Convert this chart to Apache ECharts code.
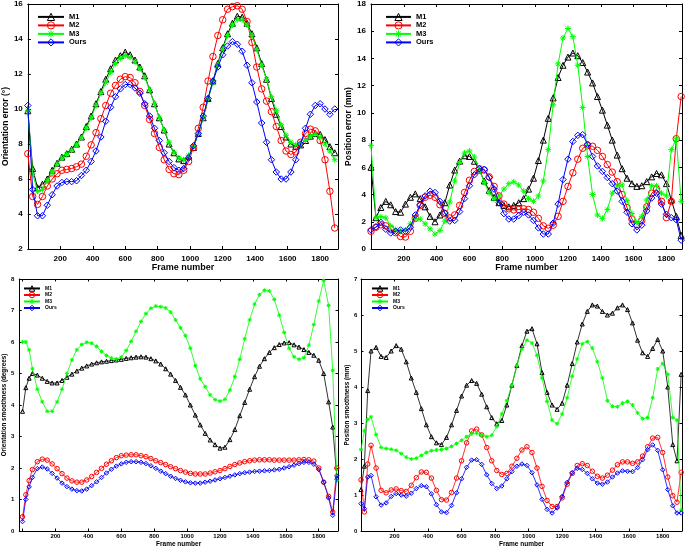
<!DOCTYPE html>
<html><head><meta charset="utf-8">
<script src="https://cdn.jsdelivr.net/npm/echarts@6/dist/echarts.min.js"></script>
<style>html,body{margin:0;padding:0;background:#fff;}#c{width:685px;height:549px;}</style>
</head><body><div id="c"></div>
<script>
// ---------- DATA ----------
const seriesNames = ['M1', 'M2', 'M3', 'Ours'];

// Top panels: frame numbers
const framesTop = [
  0,30,60,90,120,150,180,210,240,270,
  300,330,360,390,420,450,480,510,540,570,
  600,630,660,690,720,750,780,810,840,870,
  900,930,960,990,1020,1050,1080,1110,1140,1170,
  1200,1230,1260,1290,1320,1350,1380,1410,1440,1470,
  1500,1530,1560,1590,1620,1650,1680,1710,1740,1770,
  1800,1830,1860,1890];

// Orientation error (deg)
const oeM1 = [
  9.9,6.6,5.5,5.7,6.0,6.5,6.9,7.25,7.45,7.7,
  8.0,8.4,9.0,9.6,10.3,11.0,11.7,12.3,12.8,13.05,
  13.25,13.1,12.8,12.4,11.9,11.1,10.3,9.5,8.8,8.0,
  7.5,7.15,7.05,7.3,7.8,8.6,9.5,10.6,11.6,12.6,
  13.5,14.3,14.9,15.3,15.25,14.9,14.3,13.5,12.6,11.7,
  10.6,9.7,9.0,8.4,8.0,7.85,7.95,8.2,8.45,8.6,
  8.55,8.25,7.85,7.5];
const oeM2 = [
  7.45,5.0,4.55,5.0,5.6,6.0,6.3,6.5,6.55,6.6,
  6.7,6.85,7.3,7.95,8.65,9.45,10.2,10.9,11.35,11.7,
  11.85,11.8,11.5,11.0,10.2,9.4,8.6,7.8,7.1,6.55,
  6.3,6.25,6.5,7.0,7.8,8.9,10.1,11.6,13.0,14.2,
  15.1,15.7,15.85,15.9,15.7,15.0,13.8,12.4,11.15,10.45,
  9.85,9.0,8.2,7.6,7.4,7.55,8.1,8.6,8.85,8.75,
  8.2,7.1,5.3,3.2];
const oeM3 = [
  9.9,6.3,5.3,5.4,5.9,6.4,6.85,7.2,7.4,7.65,
  7.95,8.35,8.9,9.5,10.2,10.9,11.5,12.1,12.6,12.9,
  13.05,12.95,12.7,12.3,11.8,11.1,10.3,9.5,8.8,8.1,
  7.5,7.2,7.1,7.35,7.85,8.6,9.5,10.55,11.5,12.5,
  13.4,14.2,14.8,15.1,15.1,14.8,14.2,13.4,12.5,11.7,
  10.7,9.9,9.1,8.5,8.1,7.95,8.0,8.2,8.45,8.55,
  8.4,8.0,7.6,7.1];
const oeOurs = [
  10.2,5.4,3.9,3.9,4.5,5.1,5.6,5.8,5.85,5.85,
  5.9,6.2,6.5,7.0,7.6,8.4,9.3,10.1,10.7,11.15,
  11.4,11.4,11.2,10.9,10.3,9.6,8.9,8.2,7.5,7.0,
  6.65,6.5,6.6,7.2,7.9,8.6,9.6,10.6,11.6,12.4,
  13.1,13.6,13.85,13.7,13.3,12.5,11.5,10.4,9.2,8.1,
  7.1,6.4,6.0,6.0,6.4,7.1,8.0,8.9,9.7,10.2,
  10.3,10.0,9.7,10.0];

// Position error (mm)
const peM1 = [
  6.0,2.3,3.05,3.5,3.25,2.75,2.7,3.3,3.8,4.05,
  3.7,3.1,2.4,2.0,2.5,3.4,4.7,5.8,6.45,6.85,
  6.8,6.45,5.8,5.0,4.3,3.8,3.4,3.2,3.1,3.2,
  3.4,3.7,4.4,5.2,6.5,8.0,9.6,11.1,12.6,13.5,
  14.1,14.4,14.2,13.7,13.0,12.2,11.2,10.2,9.1,8.0,
  6.9,5.9,5.2,4.8,4.6,4.65,4.95,5.3,5.55,5.45,
  4.8,3.6,2.4,1.0];
const peM2 = [
  1.3,1.6,1.78,1.7,1.5,1.2,0.92,0.88,1.3,2.25,
  3.2,3.8,3.95,3.8,3.25,2.6,2.28,2.5,3.2,4.15,
  5.05,5.7,5.9,5.8,5.3,4.6,3.9,3.3,2.95,2.87,
  2.9,2.95,2.9,2.7,2.25,1.7,1.52,1.75,2.4,3.5,
  4.6,5.6,6.6,7.4,7.6,7.55,7.25,6.8,6.2,5.65,
  4.95,4.0,3.05,2.2,1.8,2.1,3.1,4.1,4.4,3.5,
  2.3,3.5,8.1,11.2];
const peM3 = [
  7.6,2.3,2.38,2.28,1.7,1.43,1.3,1.4,1.85,2.22,
  2.2,1.85,1.48,1.1,1.35,2.05,3.45,5.0,6.35,7.05,
  7.2,6.75,5.85,4.9,4.1,3.7,3.9,4.4,4.8,4.93,
  4.7,4.25,3.7,3.5,3.9,5.0,7.3,10.6,13.6,15.5,
  16.2,15.6,13.5,10.4,6.8,4.0,2.5,2.25,2.9,4.1,
  4.65,4.7,3.55,2.6,1.95,2.4,3.6,4.65,4.65,4.1,
  3.9,7.3,8.1,3.5];
const peOurs = [
  1.4,1.62,1.95,1.45,1.18,1.3,1.4,1.3,1.6,2.5,
  3.25,3.9,4.25,4.15,3.5,2.65,2.05,2.1,2.75,3.7,
  4.65,5.45,5.9,5.85,5.25,4.4,3.4,2.6,2.2,2.2,
  2.45,2.7,2.5,2.1,1.55,1.1,1.1,1.9,3.3,5.1,
  6.6,7.9,8.35,8.4,7.7,6.8,6.1,5.7,5.25,4.8,
  4.25,3.5,2.7,1.85,1.4,1.75,2.8,3.75,4.1,3.3,
  2.55,2.3,2.15,0.65];

// Bottom panels: frame numbers
const framesBottom = [
  0,20,40,60,90,120,150,180,210,240,
  270,300,330,360,390,420,450,480,510,540,
  570,600,630,660,690,720,750,780,810,840,
  870,900,930,960,990,1020,1050,1080,1110,1140,
  1170,1200,1230,1260,1290,1320,1350,1380,1410,1440,
  1470,1500,1530,1560,1590,1620,1650,1680,1710,1740,
  1770,1800,1830,1860,1885,1910];

// Orientation smoothness (degrees)
const osM1 = [
  3.8,4.55,4.85,5.0,4.95,4.85,4.75,4.7,4.7,4.78,
  4.88,4.98,5.08,5.17,5.24,5.3,5.34,5.37,5.39,5.41,
  5.43,5.45,5.48,5.5,5.52,5.53,5.52,5.47,5.4,5.3,
  5.15,4.98,4.78,4.56,4.32,4.0,3.68,3.37,3.1,2.89,
  2.74,2.63,2.66,2.9,3.22,3.66,4.08,4.5,4.9,5.23,
  5.47,5.67,5.82,5.92,5.97,5.98,5.91,5.84,5.76,5.67,
  5.58,5.42,5.0,4.1,3.3,1.7];
const osM2 = [
  0.45,1.15,1.6,1.95,2.2,2.28,2.25,2.13,1.98,1.82,
  1.68,1.59,1.55,1.55,1.62,1.73,1.86,1.99,2.12,2.23,
  2.33,2.39,2.41,2.42,2.42,2.39,2.36,2.3,2.23,2.17,
  2.11,2.04,1.98,1.92,1.87,1.83,1.81,1.81,1.81,1.84,
  1.88,1.92,1.98,2.05,2.11,2.16,2.2,2.23,2.25,2.26,
  2.26,2.26,2.25,2.25,2.25,2.25,2.25,2.26,2.27,2.26,
  2.22,2.0,1.55,1.1,0.6,2.0];
const osM3 = [
  6.0,6.0,5.75,5.15,4.5,4.1,3.8,3.8,4.1,4.5,
  5.0,5.43,5.75,5.92,5.99,5.96,5.86,5.7,5.57,5.49,
  5.46,5.52,5.73,6.02,6.34,6.65,6.9,7.07,7.14,7.12,
  7.08,6.95,6.7,6.45,6.2,5.8,5.25,4.83,4.58,4.32,
  4.17,4.12,4.18,4.47,4.9,5.45,6.1,6.7,7.2,7.5,
  7.64,7.62,7.35,6.85,6.3,5.8,5.53,5.45,5.5,5.9,
  6.55,7.3,7.95,7.16,5.1,1.6];
const osOurs = [
  0.3,1.0,1.4,1.7,1.98,2.03,1.97,1.83,1.68,1.52,
  1.41,1.33,1.28,1.27,1.33,1.44,1.56,1.7,1.84,1.96,
  2.06,2.13,2.18,2.2,2.2,2.18,2.14,2.07,1.99,1.9,
  1.82,1.74,1.67,1.61,1.56,1.53,1.52,1.52,1.55,1.58,
  1.62,1.66,1.7,1.74,1.78,1.82,1.85,1.87,1.89,1.9,
  1.91,1.92,1.94,1.96,2.0,2.04,2.09,2.14,2.18,2.18,
  2.12,1.95,1.55,1.05,0.5,1.75];

// Position smoothness (mm)
const psM1 = [
  1.15,1.8,3.9,5.0,5.1,4.85,4.82,5.0,5.15,5.05,
  4.7,4.25,3.85,3.4,2.95,2.62,2.45,2.4,2.6,2.95,
  3.35,3.75,4.05,4.18,4.1,3.8,3.45,3.15,2.98,3.07,
  3.5,4.05,4.6,5.15,5.55,5.62,5.2,4.4,3.85,3.5,
  3.38,3.55,4.05,4.65,5.25,5.75,6.1,6.28,6.25,6.1,
  6.0,6.05,6.2,6.28,6.15,5.78,5.3,4.95,4.85,5.07,
  5.32,5.0,4.0,2.4,1.95,4.35];
const psM2 = [
  1.42,0.53,1.86,2.38,1.75,1.13,1.06,1.14,1.17,1.12,
  1.1,1.27,1.48,1.64,1.63,1.47,1.13,0.87,0.86,1.07,
  1.47,1.95,2.45,2.78,2.83,2.67,2.32,1.95,1.68,1.57,
  1.6,1.8,2.02,2.25,2.34,2.18,1.75,1.24,0.85,0.68,
  0.68,0.92,1.3,1.6,1.82,1.87,1.82,1.66,1.52,1.47,
  1.55,1.69,1.84,1.92,1.92,1.88,1.92,2.08,2.34,2.58,
  2.6,2.18,1.5,0.98,0.8,1.63];
const psM3 = [
  2.26,2.78,3.1,3.17,2.68,2.32,2.29,2.27,2.24,2.15,
  2.05,2.0,2.02,2.1,2.18,2.23,2.25,2.26,2.29,2.35,
  2.43,2.52,2.62,2.7,2.72,2.66,2.62,2.66,2.9,3.25,
  3.62,4.05,4.6,5.05,5.3,5.22,4.88,4.25,3.6,3.08,
  2.98,3.25,3.7,4.3,4.78,5.2,5.26,5.08,4.7,4.25,
  3.62,3.46,3.45,3.55,3.6,3.5,3.28,3.12,3.15,3.7,
  4.5,4.65,4.35,3.15,3.08,0.58];
const psOurs = [
  0.76,0.62,1.5,1.54,0.95,0.72,0.78,0.96,1.04,1.0,
  0.97,1.05,1.18,1.26,1.23,1.03,0.73,0.53,0.51,0.71,
  1.06,1.45,1.77,1.97,1.98,1.85,1.56,1.32,1.18,1.25,
  1.45,1.65,1.8,1.86,1.82,1.62,1.28,0.88,0.6,0.5,
  0.64,0.96,1.35,1.62,1.74,1.71,1.6,1.45,1.33,1.3,
  1.36,1.5,1.61,1.67,1.66,1.65,1.76,1.98,2.26,2.39,
  2.24,1.7,1.15,0.7,0.5,0.5];

const xTitle = 'Frame number';
const yTitles = ['Orientation error (°)', 'Position error (mm)',
                 'Orientation smoothness (degrees)', 'Position smoothness (mm)'];

// ---------- STYLE / LAYOUT ----------
const FONT = '"Liberation Sans", Arial, Helvetica, sans-serif';
const COLORS = ['#000000', '#ff0000', '#00ff00', '#0000ff'];
const STAR = 'path://M5,0L5,10M0,5L10,5M1.5,1.5L8.5,8.5M1.5,8.5L8.5,1.5';
const SYMBOLS = ['triangle', 'circle', STAR, 'diamond'];

const panels = [
  { frames: framesTop, values: [oeM1, oeM2, oeM3, oeOurs],
    grid: {left: 25, top: 3, width: 313, height: 246},
    xMin: 0, xMax: 1910, yMin: 2, yMax: 16, yInterval: 2,
    tickFont: 8, xNameFont: 9, yNameFont: 8.5, xLabelMargin: 5.5, yLabelMargin: 5,
    xNameGap: 14, yNameGap: 16, tickLen: 3, sym: [6, 6.5, 6, 6.5], lw: 1,
    legend: {left: 37, top: 12.8, itemWidth: 26, itemHeight: 9, itemGap: 0.3, fontSize: 7.5} },
  { frames: framesTop, values: [peM1, peM2, peM3, peOurs],
    grid: {left: 371, top: 3, width: 311, height: 246},
    xMin: 0, xMax: 1895, yMin: 0, yMax: 18, yInterval: 2,
    tickFont: 8, xNameFont: 9, yNameFont: 8.5, xLabelMargin: 5.5, yLabelMargin: 5,
    xNameGap: 14, yNameGap: 16.5, tickLen: 3, sym: [6, 6.5, 6, 6.5], lw: 1,
    legend: {left: 385, top: 12.8, itemWidth: 25, itemHeight: 9, itemGap: 0.3, fontSize: 7.5} },
  { frames: framesBottom, values: [osM1, osM2, osM3, osOurs],
    grid: {left: 12, top: 279, width: 326, height: 254},
    xMin: -20, xMax: 1917, yMin: 0, yMax: 8, yInterval: 1,
    tickFont: 6, xNameFont: 6.5, yNameFont: 6.3, xLabelMargin: 2, yLabelMargin: 5,
    xNameGap: 10, yNameGap: 5, tickLen: 2.5, sym: [4, 4.5, 4, 4.5], lw: 0.8,
    legend: {left: 23, top: 285.2, itemWidth: 16, itemHeight: 6.9, itemGap: 0, fontSize: 5} },
  { frames: framesBottom, values: [psM1, psM2, psM3, psOurs],
    grid: {left: 361, top: 279, width: 322, height: 254},
    xMin: 0, xMax: 1915, yMin: 0, yMax: 7, yInterval: 1,
    tickFont: 6, xNameFont: 6.5, yNameFont: 6.3, xLabelMargin: 2, yLabelMargin: 3.7,
    xNameGap: 10, yNameGap: 9, tickLen: 2.5, sym: [4, 4.5, 4, 4.5], lw: 0.8,
    legend: {left: 371, top: 285.2, itemWidth: 16, itemHeight: 6.9, itemGap: 0, fontSize: 5} }
];

const grids = [], xAxes = [], yAxes = [], series = [], legends = [];
const axisLine = {show: true, onZero: false, lineStyle: {color: '#000', width: 1}};

panels.forEach((p, g) => {
  grids.push(Object.assign({show: false, containLabel: false}, p.grid));
  const tick = {show: true, inside: true, length: p.tickLen, lineStyle: {color: '#000', width: 1}};
  const xBase = {type: 'value', gridIndex: g, min: p.xMin, max: p.xMax,
                 splitLine: {show: false}, axisLine: axisLine, axisTick: tick};
  if (p.xMin === 0) xBase.interval = 200; else xBase.splitNumber = 10;
  xAxes.push(Object.assign({}, xBase, {
    position: 'bottom',
    axisLabel: {show: true, margin: p.xLabelMargin, fontSize: p.tickFont, fontWeight: 'bold',
                fontFamily: FONT, color: '#000',
                formatter: v => (v > 0 && v % 200 === 0) ? String(v) : ''},
    name: xTitle, nameLocation: 'middle', nameGap: p.xNameGap,
    nameTextStyle: {fontSize: p.xNameFont, fontWeight: 'bold', fontFamily: FONT, color: '#000'}
  }));
  xAxes.push(Object.assign({}, xBase, {position: 'top', axisLabel: {show: false}}));
  const yBase = {type: 'value', gridIndex: g, min: p.yMin, max: p.yMax, interval: p.yInterval,
                 splitLine: {show: false}, axisLine: axisLine, axisTick: tick};
  yAxes.push(Object.assign({}, yBase, {
    position: 'left',
    axisLabel: {show: true, margin: p.yLabelMargin, fontSize: p.tickFont, fontWeight: 'bold',
                fontFamily: FONT, color: '#000'},
    name: yTitles[g], nameLocation: 'middle', nameGap: p.yNameGap,
    nameTextStyle: {fontSize: p.yNameFont, fontWeight: 'bold', fontFamily: FONT, color: '#000'}
  }));
  yAxes.push(Object.assign({}, yBase, {position: 'right', axisLabel: {show: false}}));

  seriesNames.forEach((nm, k) => {
    series.push({
      type: 'line', name: nm + '#' + g,
      xAxisIndex: 2 * g, yAxisIndex: 2 * g,
      data: p.frames.map((f, i) => [f, p.values[k][i]]),
      symbol: SYMBOLS[k], symbolSize: p.sym[k], showSymbol: true,
      lineStyle: {color: COLORS[k], width: p.lw},
      itemStyle: {color: 'rgba(0,0,0,0)', borderColor: COLORS[k], borderWidth: 1},
      emphasis: {disabled: true}, clip: false, animation: false, z: 2 + k
    });
  });

  legends.push({
    data: seriesNames.map(nm => nm + '#' + g),
    orient: 'vertical', left: p.legend.left, top: p.legend.top, padding: 0,
    itemWidth: p.legend.itemWidth, itemHeight: p.legend.itemHeight, itemGap: p.legend.itemGap,
    selectedMode: false, formatter: n => n.split('#')[0],
    itemStyle: {borderWidth: 1},
    textStyle: {fontSize: p.legend.fontSize, fontWeight: 'bold', fontFamily: FONT, color: '#000'}
  });
});

const chart = echarts.init(document.getElementById('c'), null, {renderer: 'canvas'});
chart.setOption({
  backgroundColor: '#ffffff',
  animation: false,
  grid: grids, xAxis: xAxes, yAxis: yAxes, series: series, legend: legends
});
</script></body></html>
